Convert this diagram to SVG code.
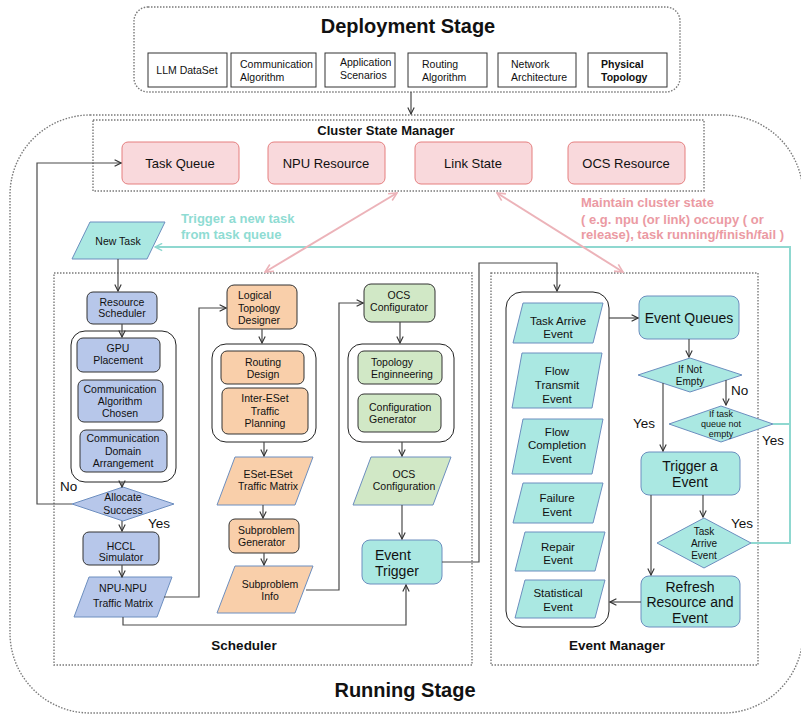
<svg xmlns="http://www.w3.org/2000/svg" width="801" height="717" viewBox="0 0 801 717">
<defs>
<style>
text{font-family:"Liberation Sans",Arial,Helvetica,sans-serif;fill:#111;}
.c{text-anchor:middle;}
.s{text-anchor:start;}
.f10{font-size:10px;}
.f105{font-size:10.5px;}
.f11{font-size:11.5px;}
.f13{font-size:13px;}
.f14{font-size:14px;}
.yn{font-size:13.5px;text-anchor:start;}
.b{font-weight:bold;}
.dot{fill:none;stroke:#7a7a7a;stroke-width:1.4;stroke-dasharray:1.5 1.5;}
.dep{fill:#fff;stroke:#333;stroke-width:1;}
.pink{fill:#f9d9dc;stroke:#e57f7f;stroke-width:1;}
.blueR{fill:#b7c7ea;stroke:#333;stroke-width:1;}
.blueP{fill:#b7c7ea;stroke:#6c8ebf;stroke-width:1;}
.orR{fill:#f9cfaa;stroke:#333;stroke-width:1;}
.orP{fill:#f9cfaa;stroke:#6c8ebf;stroke-width:1;}
.grR{fill:#d1e8c6;stroke:#333;stroke-width:1;}
.grP{fill:#d1e8c6;stroke:#6c8ebf;stroke-width:1;}
.teal{fill:#aae8e2;stroke:#6c8ebf;stroke-width:1;}
.cont{fill:#fff;stroke:#222;stroke-width:1;}
.ln{fill:none;stroke:#4a4a4a;stroke-width:1.2;marker-end:url(#arr);}
.ln0{fill:none;stroke:#4a4a4a;stroke-width:1.2;}
.tl{fill:none;stroke:#8fd8d0;stroke-width:2;}
.pl{fill:none;stroke:#ecb3b9;stroke-width:2;marker-start:url(#parr);marker-end:url(#parr);}
</style>
<marker id="arr" viewBox="0 0 10 10" refX="9" refY="5" markerWidth="8" markerHeight="8" markerUnits="userSpaceOnUse" orient="auto-start-reverse"><path d="M1,1 L9,5 L1,9" fill="none" stroke="#333" stroke-width="1.4"/></marker>
<marker id="parr" viewBox="0 0 10 10" refX="9" refY="5" markerWidth="10" markerHeight="10" markerUnits="userSpaceOnUse" orient="auto-start-reverse"><path d="M1,1 L9,5 L1,9" fill="none" stroke="#ecb3b9" stroke-width="1.6"/></marker>
<marker id="tarr" viewBox="0 0 10 10" refX="9" refY="5" markerWidth="9" markerHeight="9" markerUnits="userSpaceOnUse" orient="auto-start-reverse"><path d="M1,1 L9,5 L1,9" fill="none" stroke="#8fd8d0" stroke-width="1.6"/></marker>
</defs>
<rect width="801" height="717" fill="#fff"/>

<!-- Containers -->
<g id="deployment-stage">
<rect class="dot" x="134" y="7" width="546" height="85" rx="14"/>
<text class="c b" x="408" y="33" font-size="20">Deployment Stage</text>
</g>
<g id="running-stage">
<rect class="dot" x="10" y="115" width="793" height="598" rx="80"/>
<text class="c b" x="405" y="697" font-size="20">Running Stage</text>
</g>
<g id="cluster-state-manager">
<rect class="dot" x="93" y="120" width="611" height="71"/>
<text class="c b f13" x="386" y="135">Cluster State Manager</text>
</g>
<g id="scheduler">
<rect class="dot" x="54" y="273" width="418" height="392"/>
<text class="c b" x="244" y="650" font-size="13.5">Scheduler</text>
</g>
<g id="event-manager">
<rect class="dot" x="491" y="273" width="267" height="392"/>
<text class="c b" x="617" y="650" font-size="13.5">Event Manager</text>
</g>

<!-- Deployment items -->
<g id="llm-dataset"><rect class="dep" x="148" y="53" width="79" height="34"/><text class="c f105" x="187" y="74">LLM DataSet</text></g>
<g id="communication-algorithm"><rect class="dep" x="231" y="53" width="85" height="34"/><text class="s f105" x="240" y="68">Communication</text><text class="s f105" x="240" y="81">Algorithm</text></g>
<g id="application-scenarios"><rect class="dep" x="325" y="53" width="70" height="34"/><text class="s f105" x="340" y="66">Application</text><text class="s f105" x="340" y="79">Scenarios</text></g>
<g id="routing-algorithm"><rect class="dep" x="408" y="53" width="79" height="34"/><text class="s f105" x="422" y="68">Routing</text><text class="s f105" x="422" y="81">Algorithm</text></g>
<g id="network-architecture"><rect class="dep" x="498" y="53" width="78" height="34"/><text class="s f105" x="511" y="68">Network</text><text class="s f105" x="511" y="81">Architecture</text></g>
<g id="physical-topology"><rect class="dep" x="588" y="53" width="79" height="34"/><text class="s f105 b" x="601" y="68">Physical</text><text class="s f105 b" x="601" y="81">Topology</text></g>

<!-- Cluster state items -->
<g id="task-queue"><rect class="pink" x="122" y="142" width="117" height="42" rx="6"/><text class="c f13" x="180" y="168">Task Queue</text></g>
<g id="npu-resource"><rect class="pink" x="268" y="142" width="117" height="42" rx="6"/><text class="c f13" x="326" y="168">NPU Resource</text></g>
<g id="link-state"><rect class="pink" x="415" y="142" width="117" height="42" rx="6"/><text class="c f13" x="473" y="168">Link State</text></g>
<g id="ocs-resource"><rect class="pink" x="568" y="142" width="117" height="42" rx="6"/><text class="c f13" x="626" y="168">OCS Resource</text></g>

<!-- Annotations -->
<g id="annotation-trigger">
<text class="s b f13" x="181" y="223" fill="#8fdcd3" style="fill:#8fdcd3">Trigger a new task</text>
<text class="s b f13" x="181" y="239" style="fill:#8fdcd3">from task queue</text>
</g>
<g id="annotation-maintain">
<text class="s b f13" x="581" y="207" style="fill:#eb9aa3">Maintain cluster state</text>
<text class="s b f13" x="581" y="224" style="fill:#eb9aa3">( e.g. npu (or link) occupy ( or</text>
<text class="s b f13" x="581" y="239" style="fill:#eb9aa3">release), task running/finish/fail )</text>
</g>

<!-- Scheduler left column -->
<g id="new-task"><polygon class="teal" points="90,222 165,222 147,259 72,259"/><text class="c f105" x="118" y="245">New Task</text></g>
<g id="resource-scheduler"><rect class="blueR" x="87" y="292" width="70" height="32" rx="6"/><text class="c f105" x="122" y="306">Resource</text><text class="c f105" x="122" y="317">Scheduler</text></g>
<g id="placement-group"><rect class="cont" x="71" y="331" width="105" height="151" rx="14"/></g>
<g id="gpu-placement"><rect class="blueR" x="77" y="338" width="83" height="34" rx="6"/><text class="c f105" x="118" y="352">GPU</text><text class="c f105" x="118" y="364">Placement</text></g>
<g id="comm-algorithm-chosen"><rect class="blueR" x="78" y="380" width="85" height="42" rx="6"/><text class="c f105" x="120" y="393">Communication</text><text class="c f105" x="120" y="405">Algorithm</text><text class="c f105" x="120" y="417">Chosen</text></g>
<g id="comm-domain-arrangement"><rect class="blueR" x="80" y="430" width="87" height="42" rx="6"/><text class="c f105" x="123" y="442">Communication</text><text class="c f105" x="123" y="455">Domain</text><text class="c f105" x="123" y="467">Arrangement</text></g>
<g id="allocate-success"><polygon class="blueP" points="123,487 174,504 123,521 72,504"/><text class="c f105" x="123" y="501">Allocate</text><text class="c f105" x="123" y="514">Success</text></g>
<g id="hccl-simulator"><rect class="blueR" x="83" y="532" width="76" height="33" rx="6"/><text class="c f105" x="121" y="550">HCCL</text><text class="c f105" x="121" y="561">Simulator</text></g>
<g id="npu-traffic-matrix"><polygon class="blueP" points="89,577 172,577 157,617 74,617"/><text class="c f105" x="123" y="592">NPU-NPU</text><text class="c f105" x="123" y="607">Traffic Matrix</text></g>

<!-- Scheduler middle column -->
<g id="logical-topology-designer"><rect class="orR" x="227" y="285" width="70" height="44" rx="7"/><text class="s f105" x="238" y="299">Logical</text><text class="s f105" x="238" y="312">Topology</text><text class="s f105" x="238" y="324">Designer</text></g>
<g id="routing-group"><rect class="cont" x="212" y="344" width="104" height="98" rx="14"/></g>
<g id="routing-design"><rect class="orR" x="221" y="351" width="83" height="33" rx="6"/><text class="c f105" x="263" y="366">Routing</text><text class="c f105" x="263" y="378">Design</text></g>
<g id="inter-eset-traffic-planning"><rect class="orR" x="222" y="388" width="86" height="46" rx="6"/><text class="c f105" x="265" y="402">Inter-ESet</text><text class="c f105" x="265" y="415">Traffic</text><text class="c f105" x="265" y="427">Planning</text></g>
<g id="eset-traffic-matrix"><polygon class="orP" points="235,457 313,457 295,505 217,505"/><text class="c f105" x="268" y="478">ESet-ESet</text><text class="c f105" x="268" y="490">Traffic Matrix</text></g>
<g id="subproblem-generator"><rect class="orR" x="229" y="519" width="70" height="34" rx="6"/><text class="s f105" x="238" y="534">Subproblem</text><text class="s f105" x="238" y="546">Generator</text></g>
<g id="subproblem-info"><polygon class="orP" points="235,566 313,566 295,613 217,613"/><text class="c f105" x="270" y="588">Subproblem</text><text class="c f105" x="270" y="600">Info</text></g>

<!-- Scheduler right column -->
<g id="ocs-configurator"><rect class="grR" x="364" y="284" width="71" height="38" rx="7"/><text class="c f105" x="399" y="299">OCS</text><text class="c f105" x="399" y="311">Configurator</text></g>
<g id="ocs-group"><rect class="cont" x="348" y="344" width="106" height="98" rx="14"/></g>
<g id="topology-engineering"><rect class="grR" x="358" y="351" width="84" height="33" rx="6"/><text class="s f105" x="371" y="366">Topology</text><text class="s f105" x="371" y="378">Enginneering</text></g>
<g id="configuration-generator"><rect class="grR" x="358" y="394" width="83" height="38" rx="6"/><text class="s f105" x="369" y="411">Configuration</text><text class="s f105" x="369" y="423">Generator</text></g>
<g id="ocs-configuration"><polygon class="grP" points="371,457 451,457 433,505 353,505"/><text class="c f105" x="404" y="478">OCS</text><text class="c f105" x="404" y="490">Configuration</text></g>
<g id="event-trigger"><rect class="teal" x="362" y="540" width="80" height="44" rx="8"/><text class="s f14" x="375" y="560">Event</text><text class="s f14" x="375" y="576">Trigger</text></g>

<!-- Event manager -->
<g id="event-list"><rect class="cont" x="506" y="292" width="103" height="335" rx="16"/></g>
<g id="task-arrive-event"><polygon class="teal" points="523,303 603,303 593,343 513,343"/><text class="c f11" x="558" y="325">Task Arrive</text><text class="c f11" x="558" y="338">Event</text></g>
<g id="flow-transmit-event"><polygon class="teal" points="522,353 602,353 592,408 512,408"/><text class="c f11" x="557" y="375">Flow</text><text class="c f11" x="557" y="389">Transmit</text><text class="c f11" x="557" y="403">Event</text></g>
<g id="flow-completion-event"><polygon class="teal" points="523,419 603,419 592,474 512,474"/><text class="c f11" x="557" y="436">Flow</text><text class="c f11" x="557" y="449">Completion</text><text class="c f11" x="557" y="463">Event</text></g>
<g id="failure-event"><polygon class="teal" points="523,483 603,483 593,523 513,523"/><text class="c f11" x="557" y="502">Failure</text><text class="c f11" x="557" y="516">Event</text></g>
<g id="repair-event"><polygon class="teal" points="525,532 605,532 595,571 515,571"/><text class="c f11" x="558" y="551">Repair</text><text class="c f11" x="558" y="564">Event</text></g>
<g id="statistical-event"><polygon class="teal" points="525,580 605,580 595,618 515,618"/><text class="c f11" x="558" y="597">Statistical</text><text class="c f11" x="558" y="611">Event</text></g>
<g id="event-queues"><rect class="teal" x="639" y="296" width="100" height="43" rx="8"/><text class="c f14" x="689" y="323">Event Queues</text></g>
<g id="if-not-empty"><polygon class="teal" points="690,358 742,375 690,392 638,375"/><text class="c f10" x="690" y="373">If Not</text><text class="c f10" x="690" y="385">Empty</text></g>
<g id="if-task-queue-not-empty"><polygon class="teal" points="721,406 773,424 721,442 669,424"/><text class="c" font-size="9" x="721" y="417">If task</text><text class="c" font-size="9" x="721" y="427">queue not</text><text class="c" font-size="9" x="721" y="437">empty</text></g>
<g id="trigger-a-event"><rect class="teal" x="641" y="452" width="99" height="43" rx="8"/><text class="c f14" x="690" y="471">Trigger a</text><text class="c f14" x="690" y="487">Event</text></g>
<g id="task-arrive-decision"><polygon class="teal" points="704,518 751,543 704,568 657,543"/><text class="c f10" x="704" y="535">Task</text><text class="c f10" x="704" y="547">Arrive</text><text class="c f10" x="704" y="559">Event</text></g>
<g id="refresh-resource-event"><rect class="teal" x="641" y="576" width="99" height="51" rx="8"/><text class="c f14" x="690" y="592">Refresh</text><text class="c f14" x="690" y="607">Resource and</text><text class="c f14" x="690" y="623">Event</text></g>

<!-- Connectors -->
<g id="connectors">
<path class="ln" d="M411,92 L411,114"/>
<path class="ln" d="M72,504 L37,504 L37,163 L121,163"/>
<path class="ln" d="M118,259 L118,291"/>
<path class="ln" d="M122,324 L122,337"/>
<path class="ln" d="M122,482 L122,487"/>
<path class="ln" d="M122,521 L122,531"/>
<path class="ln" d="M122,565 L122,577"/>
<path class="ln" d="M164,597 L199,597 L199,308 L226,308"/>
<path class="ln" d="M123,617 L123,625 L406,625 L406,585"/>
<path class="ln" d="M262,329 L262,343"/>
<path class="ln" d="M264,442 L264,456"/>
<path class="ln" d="M263,505 L263,518"/>
<path class="ln" d="M264,553 L264,565"/>
<path class="ln" d="M306,590 L339,590 L339,303 L363,303"/>
<path class="ln" d="M400,322 L400,343"/>
<path class="ln" d="M402,442 L402,456"/>
<path class="ln" d="M402,505 L402,539"/>
<path class="ln" d="M442,562 L479,562 L479,263 L557,263 L557,291"/>
<path class="ln" d="M609,318 L638,318"/>
<path class="ln" d="M689,339 L689,357"/>
<path class="ln" d="M663,383 L663,451"/>
<path class="ln" d="M726,380 L726,405"/>
<path class="ln" d="M703,495 L703,517"/>
<path class="ln" d="M651,495 L651,575"/>
<path class="ln" d="M641,602 L610,602"/>
<path class="tl" d="M773,424 L790,424"/>
<path class="tl" d="M751,543 L790,543 L790,247 L155,247" marker-end="url(#tarr)"/>
<path class="pl" d="M397,193 L265,272"/>
<path class="pl" d="M497,193 L623,272"/>
<text class="yn" x="60" y="491">No</text>
<text class="yn" x="148" y="528">Yes</text>
<text class="yn" x="633" y="428">Yes</text>
<text class="yn" x="731" y="395">No</text>
<text class="yn" x="762" y="445">Yes</text>
<text class="yn" x="731" y="528">Yes</text>
</g>
</svg>
